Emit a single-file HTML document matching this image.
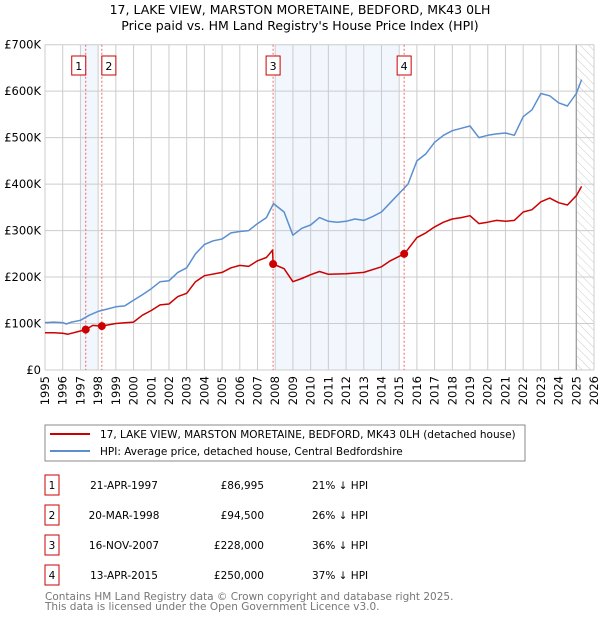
<!DOCTYPE html>
<html><head><meta charset="utf-8"><style>
body{margin:0;background:#fff;width:600px;height:620px;overflow:hidden;font-family:"DejaVu Sans","Liberation Sans",sans-serif;}
</style></head><body>
<svg id="chart" width="600" height="620" xmlns="http://www.w3.org/2000/svg" font-family="DejaVu Sans, Liberation Sans, sans-serif">
<defs>
<pattern id="hatch" width="6" height="6" patternUnits="userSpaceOnUse" patternTransform="rotate(-45)">
<line x1="0" y1="0" x2="0" y2="6" stroke="#ccc" stroke-width="1"/>
</pattern>
</defs>
<text x="300" y="14" text-anchor="middle" font-size="12.5">17, LAKE VIEW, MARSTON MORETAINE, BEDFORD, MK43 0LH</text>
<text x="300" y="30" text-anchor="middle" font-size="12.5">Price paid vs. HM Land Registry's House Price Index (HPI)</text>
<g id="plot"></g>
<rect x="45" y="425" width="480" height="36" fill="#fff" stroke="#888"/>
<line x1="50" y1="434" x2="90" y2="434" stroke="#cc0000" stroke-width="2"/>
<text x="100" y="438" font-size="10.5">17, LAKE VIEW, MARSTON MORETAINE, BEDFORD, MK43 0LH (detached house)</text>
<line x1="50" y1="451" x2="90" y2="451" stroke="#5b8fd0" stroke-width="2"/>
<text x="100" y="455" font-size="10.5">HPI: Average price, detached house, Central Bedfordshire</text>
<g id="table" font-size="10.5"></g>
<text x="45" y="600" font-size="10.5" fill="#777">Contains HM Land Registry data © Crown copyright and database right 2025.</text>
<text x="45" y="610" font-size="10.5" fill="#777">This data is licensed under the Open Government Licence v3.0.</text>
</svg>
<script>
const hpiYears=[1995,1995.5,1996,1996.2,1996.5,1997,1997.5,1998,1998.5,1999,1999.5,2000,2000.5,2001,2001.5,2002,2002.5,2003,2003.5,2004,2004.5,2005,2005.5,2006,2006.5,2007,2007.5,2007.9,2008.5,2009,2009.5,2010,2010.5,2011,2011.5,2012,2012.5,2013,2013.5,2014,2014.5,2015,2015.5,2016,2016.5,2017,2017.5,2018,2018.5,2019,2019.5,2020,2020.5,2021,2021.5,2022,2022.5,2023,2023.5,2024,2024.5,2025,2025.3];
const hpiValues=[102,103,102,99,103,107,118,126,131,136,138,150,162,175,190,192,210,220,250,270,278,282,295,298,300,315,328,358,340,290,305,312,328,320,318,320,325,322,330,340,360,380,400,450,465,490,505,515,520,525,500,505,508,510,505,545,560,595,590,575,568,595,625];
const priceYears=[1995,1995.5,1996,1996.3,1997,1997.3,1997.7,1998.2,1999,2000,2000.5,2001,2001.5,2002,2002.5,2003,2003.5,2004,2005,2005.5,2006,2006.5,2007,2007.5,2007.85,2007.88,2008.5,2009,2009.5,2010,2010.5,2011,2012,2013,2014,2014.5,2015.28,2015.5,2016,2016.5,2017,2017.5,2018,2018.5,2019,2019.5,2020,2020.5,2021,2021.5,2022,2022.5,2023,2023.5,2024,2024.5,2025,2025.3];
const priceValues=[80,80,79,77,84,87,96,94.5,100,103,118,128,140,142,158,165,190,203,210,220,225,223,235,242,258,228,218,190,197,205,212,206,207,210,222,235,250,260,285,295,308,318,325,328,332,315,318,322,320,322,340,345,362,370,360,355,375,395];
const saleLabels=["1","2","3","4"];
const saleYears=[1997.30,1998.21,2007.88,2015.28];
const saleValues=[86.995,94.5,228,250];
const saleDates=["21-APR-1997","20-MAR-1998","16-NOV-2007","13-APR-2015"];
const salePrices=["£86,995","£94,500","£228,000","£250,000"];
const saleHpi=["21% ↓ HPI","26% ↓ HPI","36% ↓ HPI","37% ↓ HPI"];
const yTicks=[0,100,200,300,400,500,600,700];
const yTickLabels=["£0","£100K","£200K","£300K","£400K","£500K","£600K","£700K"];
const shadeRanges=[[1997,1998],[2008,2015]];

const X0=45,X1=594,Y0=370,Y1=44.7,NS="http://www.w3.org/2000/svg";
const xs=y=>X0+(y-1995)*(X1-X0)/31;
const ys=v=>Y0-v*(Y0-Y1)/700;
const plot=document.getElementById('plot');
function mk(tag,attrs,parent){const e=document.createElementNS(NS,tag);for(const k in attrs)e.setAttribute(k,attrs[k]);(parent||plot).appendChild(e);return e;}

shadeRanges.forEach(r=>{
 const e=mk('rect',{x:xs(r[0]),y:Y1,width:xs(r[1])-xs(r[0]),height:Y0-Y1,fill:'#f2f6fd'});
 
 
});
const h=mk('rect',{x:xs(2025),y:Y1,width:X1-xs(2025),height:Y0-Y1,fill:'url(#hatch)'});


for(let yr=1995;yr<=2026;yr++){
 const g=mk('line',{x1:xs(yr),x2:xs(yr),y1:Y1,y2:Y0,stroke:'#ccc','stroke-width':1});
 
 
 const t=mk('text',{x:0,y:0,'font-size':11.5,'text-anchor':'end',transform:`translate(${xs(yr)+4},${Y0+6}) rotate(-90)`});
 t.textContent=yr;
 
 
}
yTicks.forEach((v,i)=>{
 const g=mk('line',{x1:X0,x2:X1,y1:ys(v),y2:ys(v),stroke:'#ccc','stroke-width':1});
 
 
 const t=mk('text',{x:X0-4,y:ys(v)+4,'font-size':11.5,'text-anchor':'end'});
 t.textContent=yTickLabels[i];
 
 
});
const nl=mk('line',{x1:xs(2025),x2:xs(2025),y1:Y1,y2:Y0,stroke:'#999','stroke-width':1.2});


saleYears.forEach((y,i)=>{
 const l=mk('line',{x1:xs(y),x2:xs(y),y1:Y1,y2:Y0,stroke:'#e66','stroke-width':1,'stroke-dasharray':'2,2'});
 
 
});
function path(xv,yv,color,name){
 const d=xv.map((x,i)=>(i?'L':'M')+xs(x).toFixed(1)+','+ys(yv[i]).toFixed(1)).join('');
 const p=mk('path',{d:d,fill:'none',stroke:color,'stroke-width':1.5,'stroke-linejoin':'round'});
 
 
}
path(hpiYears,hpiValues,'#5b8fd0','hpi-line');
path(priceYears,priceValues,'#cc0000','price-line');
const lblX=[-7,7,0,0];
saleYears.forEach((y,i)=>{
 const c=mk('circle',{cx:xs(y),cy:ys(saleValues[i]),r:4,fill:'#cc0000'});
 
 
 const cx=xs(y)+lblX[i];
 const b=mk('rect',{x:cx-7,y:56,width:14,height:19,fill:'#fff',stroke:'#cc0000'});
 
 
 const t=mk('text',{x:cx,y:70,'font-size':11,'text-anchor':'middle'});
 t.textContent=saleLabels[i];
 
 
});
const tb=document.getElementById('table');
saleLabels.forEach((s,i)=>{
 const y=475+i*30;
 const b=mk('rect',{x:45,y:y,width:14,height:20,fill:'#fff',stroke:'#cc0000'},tb);
 
 
 const cells=[[s,52,'middle'],[saleDates[i],124,'middle'],[salePrices[i],264,'end'],[saleHpi[i],312,'start']];
 cells.forEach(c=>{
  const t=mk('text',{x:c[1],y:y+14,'text-anchor':c[2]},tb);
  t.textContent=c[0];
  
  
 });
});
</script>
</body></html>
